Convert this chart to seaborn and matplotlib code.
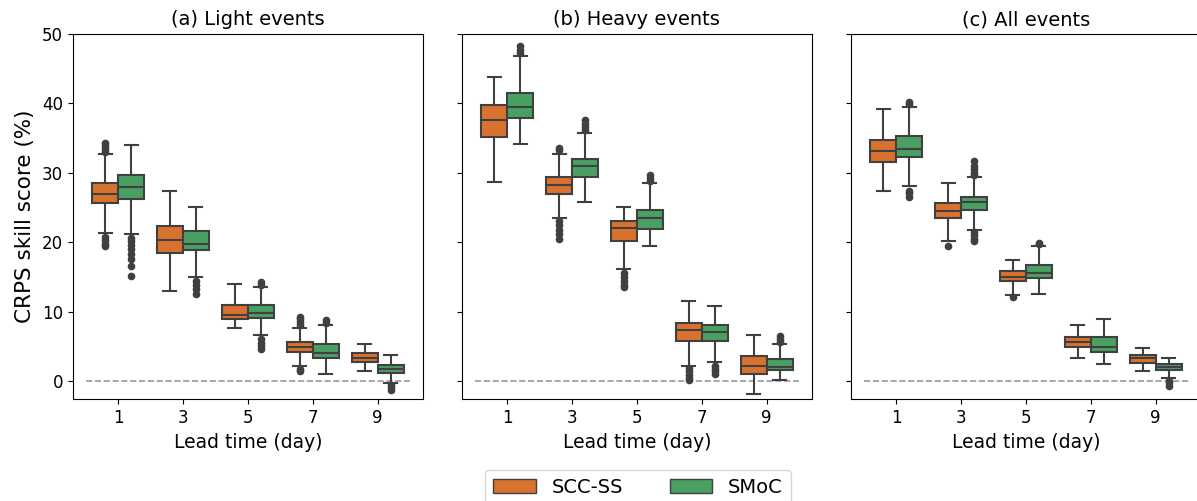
import numpy as np
import pandas as pd
import matplotlib
matplotlib.use("Agg")
import matplotlib.pyplot as plt
from matplotlib.patches import Patch
import seaborn as sns

# Lead times (days), models and panel titles
LEADS = [1, 3, 5, 7, 9]
MODELS = ["SCC-SS", "SMoC"]
PANELS = ["(a) Light events", "(b) Heavy events", "(c) All events"]

# Box statistics per lead time: (lower whisker, Q1, median, Q3, upper whisker)
light_scc = [
    (21.3, 25.6, 26.9, 28.5, 32.7),
    (13.0, 18.5, 20.3, 22.3, 27.3),
    (7.7, 8.9, 9.5, 11.0, 14.0),
    (2.2, 4.2, 4.9, 5.7, 7.7),
    (1.5, 2.8, 3.4, 4.1, 5.3),
]
light_smoc = [
    (21.1, 26.2, 27.9, 29.7, 34.0),
    (15.0, 18.8, 19.8, 21.6, 25.1),
    (6.6, 9.1, 9.8, 11.0, 13.6),
    (1.0, 3.4, 4.1, 5.3, 8.1),
    (-0.2, 1.25, 1.8, 2.3, 3.7),
]
heavy_scc = [
    (28.7, 35.1, 37.6, 39.7, 43.7),
    (23.5, 26.9, 28.2, 29.4, 32.7),
    (16.1, 20.2, 22.1, 23.1, 25.0),
    (2.2, 5.8, 7.4, 8.3, 11.6),
    (-1.9, 1.0, 2.2, 3.6, 6.7),
]
heavy_smoc = [
    (34.1, 37.8, 39.5, 41.5, 46.7),
    (25.7, 29.4, 30.9, 32.0, 35.7),
    (19.4, 21.9, 23.4, 24.6, 28.5),
    (2.7, 5.8, 7.1, 8.1, 10.8),
    (0.15, 1.6, 2.1, 3.2, 5.4),
]
all_scc = [
    (27.4, 31.5, 33.1, 34.7, 39.2),
    (20.2, 23.4, 24.5, 25.6, 28.5),
    (12.35, 14.4, 15.0, 15.8, 17.4),
    (3.4, 4.9, 5.7, 6.4, 8.1),
    (1.4, 2.6, 3.3, 3.7, 4.8),
]
all_smoc = [
    (28.1, 32.2, 33.4, 35.2, 39.4),
    (21.8, 24.6, 25.7, 26.5, 29.3),
    (12.5, 14.8, 15.6, 16.7, 19.4),
    (2.5, 4.2, 4.9, 6.4, 8.9),
    (0.4, 1.6, 2.1, 2.5, 3.4),
]

# Outlying scores per lead time
light_scc_fliers = [
    [19.4, 19.8, 20.3, 20.8, 33.0, 33.4, 33.8, 34.2],
    [],
    [],
    [1.4, 1.8, 8.1, 8.5, 8.9, 9.3],
    [],
]
light_smoc_fliers = [
    [15.1, 16.5, 17.6, 18.3, 19.0, 19.6, 20.2, 20.6],
    [12.6, 13.2, 13.8, 14.4],
    [4.7, 5.0, 5.5, 6.0, 13.9, 14.2],
    [8.4, 8.8],
    [-1.2, -0.8, -0.5],
]
heavy_scc_fliers = [
    [],
    [20.4, 21.2, 21.8, 22.4, 23.0, 33.3, 33.5],
    [13.5, 13.9, 14.4, 15.0, 15.6],
    [0.15, 0.5, 0.9, 1.4, 1.9],
    [],
]
heavy_smoc_fliers = [
    [47.2, 47.6, 48.2],
    [36.1, 36.6, 37.0, 37.5],
    [28.8, 29.2, 29.7],
    [1.0, 1.4, 1.8, 2.2],
    [5.7, 6.0, 6.5],
]
all_scc_fliers = [[], [19.4], [12.1], [], []]
all_smoc_fliers = [
    [26.5, 27.0, 27.4, 39.8, 40.1],
    [20.1, 20.5, 21.0, 21.5, 29.6, 30.0, 30.5, 31.0, 31.6],
    [19.7, 19.9],
    [],
    [-0.7, -0.3, 0.1],
]

COLORS = ["#d9722e", "#4a9f63"]
LINE = "#404040"

panel_data = [
    (light_scc, light_scc_fliers, light_smoc, light_smoc_fliers),
    (heavy_scc, heavy_scc_fliers, heavy_smoc, heavy_smoc_fliers),
    (all_scc, all_scc_fliers, all_smoc, all_smoc_fliers),
]


def expand(stats, fliers, reps=50):
    """Turn box statistics into sample values whose quartiles and
    whisker ends equal the given statistics."""
    lo, q1, med, q3, hi = stats
    vals = list(fliers) + [lo, hi] + [q1] * reps + [med] * reps + [q3] * reps
    return vals


rows = []
for panel, (s_scc, f_scc, s_smoc, f_smoc) in zip(PANELS, panel_data):
    for model, stats, fl in ((MODELS[0], s_scc, f_scc), (MODELS[1], s_smoc, f_smoc)):
        for lead, st, f in zip(LEADS, stats, fl):
            for v in expand(st, f):
                rows.append({"panel": panel, "lead": lead, "model": model, "score": v})
df = pd.DataFrame(rows)

fig, axes = plt.subplots(1, 3, figsize=(11.97, 5.01), dpi=100, sharey=True)
fig.subplots_adjust(left=0.0607, right=1.0034, top=0.9331, bottom=0.203, wspace=0.1106)

for ax, panel in zip(axes, PANELS):
    sub = df[df["panel"] == panel]
    sns.boxplot(
        data=sub, x="lead", y="score", hue="model", order=LEADS, hue_order=MODELS,
        palette=COLORS, saturation=1, linecolor=LINE, linewidth=1.5,
        width=0.8, legend=False, ax=ax,
        flierprops=dict(marker="o", markersize=4.5, markerfacecolor=LINE,
                        markeredgecolor=LINE),
    )
    ax.hlines(0, -0.5, 4.5, colors="#999999", linestyles="--", linewidth=1.2, zorder=0)
    ax.set_xlim(-0.7, 4.7)
    ax.set_ylim(-2.6, 50)
    ax.set_yticks([0, 10, 20, 30, 40, 50])
    ax.set_title(panel, fontsize=14)
    ax.set_xlabel("Lead time (day)", fontsize=13.5)
    ax.set_ylabel("")
    ax.tick_params(labelsize=12)

axes[0].set_ylabel("CRPS skill score (%)", fontsize=15.5, labelpad=5)

handles = [Patch(facecolor=c, edgecolor=LINE, linewidth=1.0) for c in COLORS]
fig.legend(handles, MODELS, loc="upper center", bbox_to_anchor=(0.533, 0.0619),
           borderaxespad=0.0, ncol=2, fontsize=14, handlelength=2.2,
           columnspacing=2.4, frameon=True)

fig.savefig("out.png", dpi=100)
